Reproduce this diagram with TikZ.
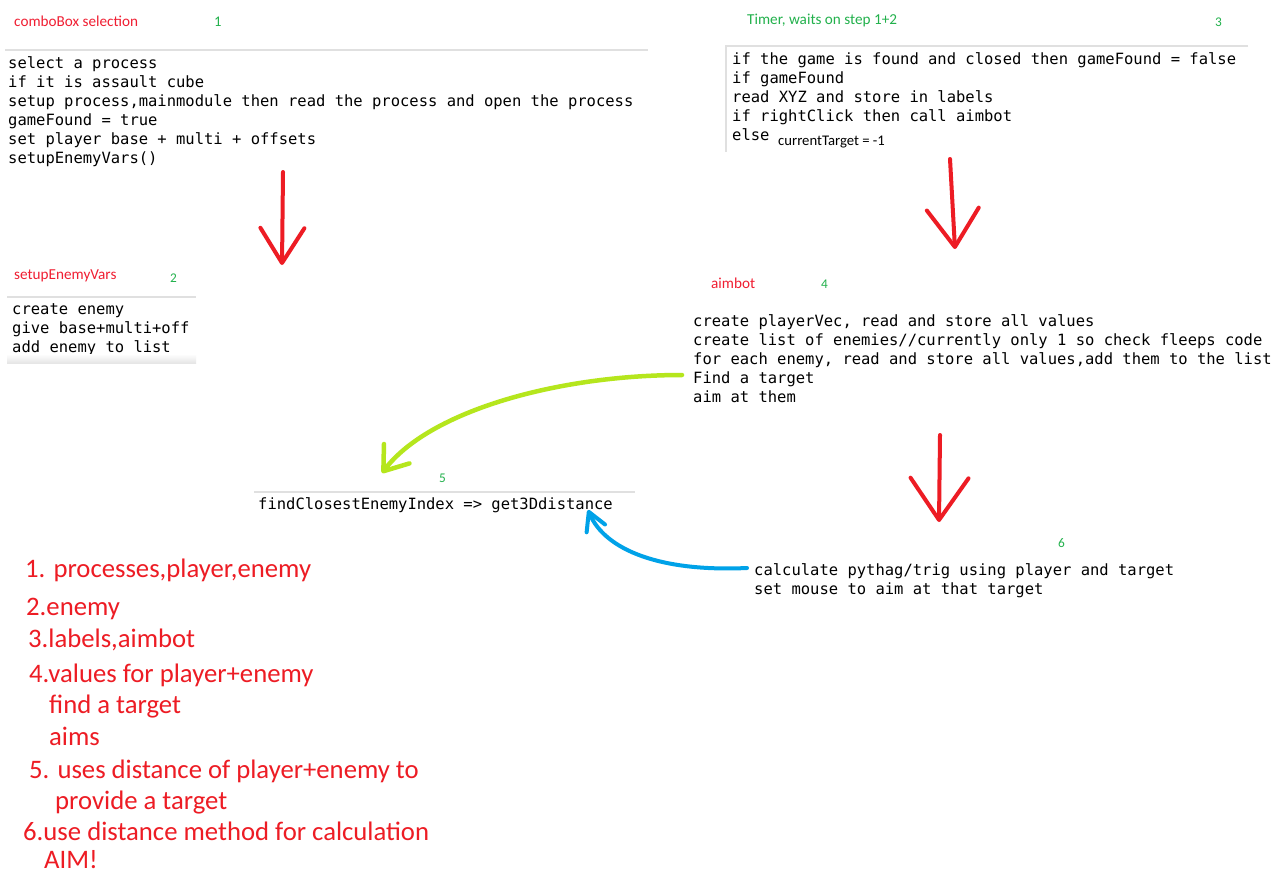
\documentclass[tikz,border=0pt]{standalone}
\usepackage{fontspec}
\setmainfont{Carlito}
\newfontfamily\codefont{DejaVu Sans Mono}
\usepackage{xcolor}
\usetikzlibrary{arrows.meta, positioning}

\definecolor{inkred}{RGB}{237,28,36}
\definecolor{inklime}{RGB}{181,230,29}
\definecolor{inkblue}{RGB}{0,162,232}
\definecolor{numgreen}{RGB}{34,177,76}
\definecolor{titlered}{RGB}{240,30,50}

\begin{document}
\begin{tikzpicture}[
        x=1pt, y=-1pt,
        code/.style={anchor=north west, inner sep=0pt, align=left, font=\codefont\fontsize{15.5}{19}\selectfont},
        title/.style={anchor=base west, inner sep=0pt, text=titlered, font=\fontsize{15.2}{17}\selectfont},
        num/.style={anchor=base west, inner sep=0pt, text=numgreen, font=\fontsize{13.3}{16}\selectfont},
        note/.style={anchor=base west, inner sep=0pt, text=inkred, font=\fontsize{26.7}{32}\selectfont},
        rule/.style={draw=black!12, line width=1.5pt},
        stroke/.style={draw, line width=4pt, line cap=round, line join=round}
    ]
        \useasboundingbox[fill=white] (0,0) rectangle (1276,881);

        % step 1
        \node [title] (t1) at (14,26) {comboBox selection};
        \node [num, font=\fontsize{14.7}{17}\selectfont] (n1) at (214,26) {1};
        \draw [rule] (5,50) -- (648,50);
        \node [code] (box1) at (8,56.5) {select a process\\if it is assault cube\\setup process,mainmodule then read the process and open the process\\gameFound = true\\set player base + multi + offsets\\setupEnemyVars()};

        % step 2
        \node [title] (t2) at (14,279) {setupEnemyVars};
        \node [num] (n2) at (170,282) {2};
        \draw [rule] (7,297) -- (196,297);
        \node [code] (box2) at (12,303.5) {create enemy\\give base+multi+off\\add enemy to list};
        \shade [top color=white, bottom color=black!10] (7,354) rectangle (196,363);

        % step 3
        \node [title, text=numgreen] (t3) at (747,24) {Timer, waits on step 1+2};
        \node [num] (n3) at (1215,26) {3};
        \draw [rule] (1248,46) -- (726,46) -- (726,152);
        \node [code] (box3) at (732,52.5) {if the game is found and closed then gameFound = false\\if gameFound\\read XYZ and store in labels\\if rightClick then call aimbot\\else};
        \node [anchor=base west, inner sep=0pt, font=\fontsize{14.7}{17}\selectfont] (cur) at (778,145) {currentTarget = -1};

        % step 4
        \node [title] (t4) at (711,288) {aimbot};
        \node [num] (n4) at (821,288) {4};
        \node [code] (box4) at (693,314.5) {create playerVec, read and store all values\\create list of enemies//currently only 1 so check fleeps code\\for each enemy, read and store all values,add them to the list\\Find a target\\aim at them};

        % step 5
        \node [num] (n5) at (439,482) {5};
        \draw [rule] (254,492) -- (635,492);
        \node [code] (box5) at (258,497.5) {findClosestEnemyIndex => get3Ddistance};

        % step 6
        \node [num] (n6) at (1058,547) {6};
        \node [code] (box6) at (754,563.5) {calculate pythag/trig using player and target\\set mouse to aim at that target};

        % hand drawn arrows
        \coordinate (a1s) at (283,172);
        \coordinate (a1e) at (282,265);
        \coordinate (a2s) at (950,159);
        \coordinate (a2e) at (955,249);
        \coordinate (a3s) at (940,435);
        \coordinate (a3e) at (939,522);
        \coordinate (gs) at (682,375);
        \coordinate (ge) at (382,473);
        \coordinate (bs) at (747,568);
        \coordinate (be) at (588,510);

        \path [stroke, inkred, -{Straight Barb[round, length=35pt, width=44pt]}] (a1s) -- (a1e);
        \path [stroke, inkred, -{Straight Barb[round, length=38pt, width=52pt]}] (a2s) -- (a2e);
        \path [stroke, inkred, -{Straight Barb[round, length=42pt, width=58pt]}] (a3s) -- (a3e);
        \path [stroke, inklime, line width=4.5pt, -{Straight Barb[round, length=22pt, width=32pt]}] (gs) .. controls (560,375) and (430,410) .. (ge);
        \path [stroke, inkblue, -{Straight Barb[round, length=18pt, width=20pt]}] (bs) .. controls (660,572) and (605,550) .. (be);

        % summary
        \node [note] (s1) at (25,577) {1. processes,player,enemy};
        \node [note] (s2) at (26,615) {2.enemy};
        \node [note] (s3) at (28,647) {3.labels,aimbot};
        \node [note] (s4) at (29,682) {4.values for player+enemy};
        \node [note] (s5) at (49,713) {find a target};
        \node [note] (s6) at (49,745) {aims};
        \node [note] (s7) at (29,778) {5. uses distance of player+enemy to};
        \node [note] (s8) at (55,809) {provide a target};
        \node [note] (s9) at (23,840) {6.use distance method for calculation};
        \node [note] (s10) at (44,868) {AIM!};
    \end{tikzpicture}
\end{document}
